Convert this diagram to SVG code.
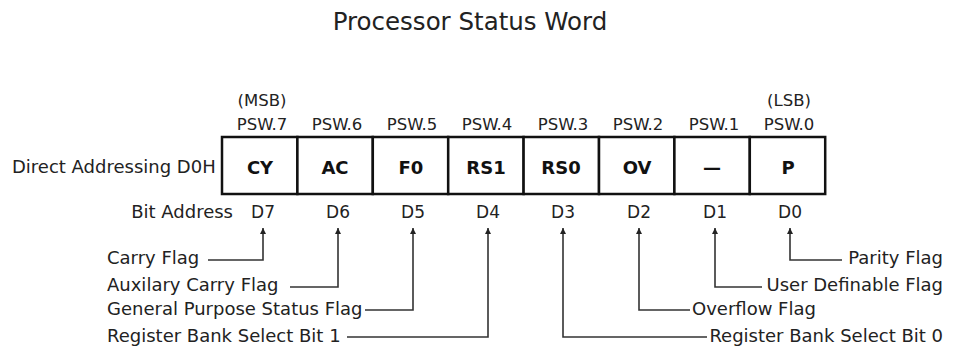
<svg xmlns="http://www.w3.org/2000/svg" width="954" height="352" viewBox="0 0 954 352">
<defs>
<style>
text{font-family:"DejaVu Sans","Liberation Sans",sans-serif;fill:#222}
.t{font-size:24.5px}
.p{font-size:16.5px;text-anchor:middle}
.d{font-size:17px;text-anchor:middle}
.l{font-size:18px}
.c{font-size:18px;font-weight:bold;text-anchor:middle;fill:#111}
.cell{fill:#fff;stroke:#111;stroke-width:2.5}
.wire{fill:none;stroke:#333;stroke-width:1.6}
</style>
<marker id="ah" viewBox="0 0 10 10" refX="10" refY="5" markerWidth="10" markerHeight="6" markerUnits="userSpaceOnUse" orient="auto">
<path d="M0,0 L10,5 L0,10 z" fill="#222"/>
</marker>
</defs>
<rect width="954" height="352" fill="#fff"/>
<text class="t" x="470" y="30" text-anchor="middle">Processor Status Word</text>
<text class="l" x="12" y="173">Direct Addressing D0H</text>
<text class="l" x="233" y="218" text-anchor="end">Bit Address</text>
<text class="p" x="262" y="106">(MSB)</text>
<text class="p" x="789" y="106">(LSB)</text>

<g id="bit7"><rect class="cell" x="222" y="137" width="75.4" height="57"/><text class="p" x="262" y="130">PSW.7</text><text class="c" x="260" y="174">CY</text><text class="d" x="263" y="218">D7</text></g>
<g id="bit6"><rect class="cell" x="297.4" y="137" width="75.4" height="57"/><text class="p" x="337" y="130">PSW.6</text><text class="c" x="335" y="174">AC</text><text class="d" x="338" y="218">D6</text></g>
<g id="bit5"><rect class="cell" x="372.8" y="137" width="75.4" height="57"/><text class="p" x="412" y="130">PSW.5</text><text class="c" x="411" y="174">F0</text><text class="d" x="413" y="218">D5</text></g>
<g id="bit4"><rect class="cell" x="448.2" y="137" width="75.4" height="57"/><text class="p" x="487" y="130">PSW.4</text><text class="c" x="486" y="174">RS1</text><text class="d" x="488" y="218">D4</text></g>
<g id="bit3"><rect class="cell" x="523.6" y="137" width="75.4" height="57"/><text class="p" x="563" y="130">PSW.3</text><text class="c" x="561" y="174">RS0</text><text class="d" x="563" y="218">D3</text></g>
<g id="bit2"><rect class="cell" x="599" y="137" width="75.4" height="57"/><text class="p" x="638" y="130">PSW.2</text><text class="c" x="637" y="174">OV</text><text class="d" x="639" y="218">D2</text></g>
<g id="bit1"><rect class="cell" x="674.4" y="137" width="75.4" height="57"/><text class="p" x="714" y="130">PSW.1</text><text class="c" x="712" y="174">—</text><text class="d" x="715" y="218">D1</text></g>
<g id="bit0"><rect class="cell" x="749.8" y="137" width="75.4" height="57"/><text class="p" x="789" y="130">PSW.0</text><text class="c" x="788" y="174">P</text><text class="d" x="790" y="218">D0</text></g>

<g id="labels" class="l">
<text x="107" y="264">Carry Flag</text>
<text x="107" y="291">Auxilary Carry Flag</text>
<text x="107" y="315">General Purpose Status Flag</text>
<text x="107" y="342">Register Bank Select Bit 1</text>
<text x="943" y="264" text-anchor="end">Parity Flag</text>
<text x="943" y="291" text-anchor="end">User Definable Flag</text>
<text x="692" y="315">Overflow Flag</text>
<text x="943" y="342" text-anchor="end">Register Bank Select Bit 0</text>
</g>

<g id="connectors" class="wire">
<path d="M208,260 H263 V228" marker-end="url(#ah)"/>
<path d="M290,287 H338 V228" marker-end="url(#ah)"/>
<path d="M365,310 H413 V228" marker-end="url(#ah)"/>
<path d="M347,337 H488 V228" marker-end="url(#ah)"/>
<path d="M707,337 H563 V228" marker-end="url(#ah)"/>
<path d="M690,310 H639 V228" marker-end="url(#ah)"/>
<path d="M762,287 H715 V228" marker-end="url(#ah)"/>
<path d="M842,260 H790 V228" marker-end="url(#ah)"/>
</g>
</svg>
